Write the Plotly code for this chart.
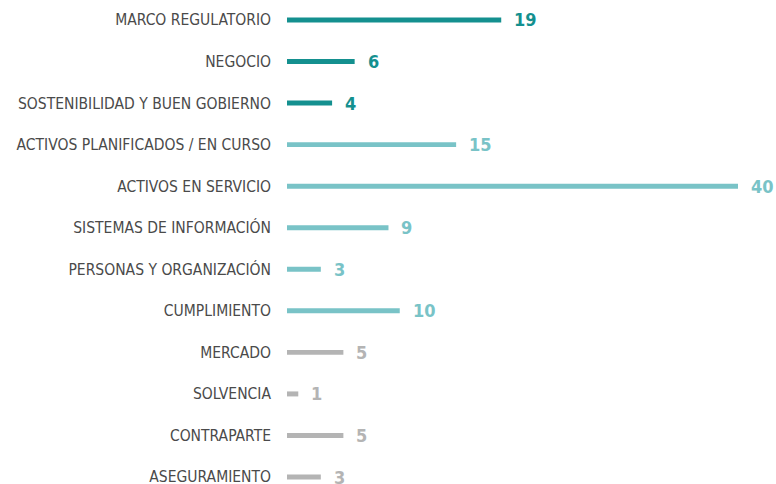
import plotly.graph_objects as go

categories = ["MARCO REGULATORIO", "NEGOCIO", "SOSTENIBILIDAD Y BUEN GOBIERNO",
              "ACTIVOS PLANIFICADOS / EN CURSO", "ACTIVOS EN SERVICIO",
              "SISTEMAS DE INFORMACIÓN", "PERSONAS Y ORGANIZACIÓN", "CUMPLIMIENTO",
              "MERCADO", "SOLVENCIA", "CONTRAPARTE", "ASEGURAMIENTO"]
values = [19, 6, 4, 15, 40, 9, 3, 10, 5, 1, 5, 3]
groups = ["dark"] * 3 + ["light"] * 5 + ["gray"] * 4

palette = {"dark": "#14908f", "light": "#79c3c7", "gray": "#b4b4b4"}
colors = [palette[g] for g in groups]

fig = go.Figure()
fig.add_trace(go.Bar(
    y=categories, x=values, orientation="h",
    marker=dict(color=colors, line=dict(width=0)),
    width=0.12, hoverinfo="skip",
))

for c, v, col in zip(categories, values, colors):
    fig.add_annotation(x=v, y=c, text=f"<b>{v}</b>", showarrow=False,
                       xanchor="left", xshift=11,
                       font=dict(family="DejaVu Sans Condensed", size=18, color=col))

fig.update_layout(
    width=776, height=484,
    margin=dict(l=287, r=0, t=0, b=0),
    paper_bgcolor="white", plot_bgcolor="white",
    showlegend=False,
    xaxis=dict(range=[0, 43.37], visible=False, fixedrange=True, automargin=False),
    yaxis=dict(type="category", range=[11.168, -0.481], showgrid=False,
               zeroline=False, showline=False, ticks="", automargin=False,
               fixedrange=True, ticklabelstandoff=15,
               tickfont=dict(family="DejaVu Sans Condensed", size=15.5, color="#4a4a4a")),
)

fig.write_html(
    "out.html",
    config={"displayModeBar": False},
    post_script="document.body.style.margin='0';"
                "document.documentElement.style.overflow='hidden';",
)
